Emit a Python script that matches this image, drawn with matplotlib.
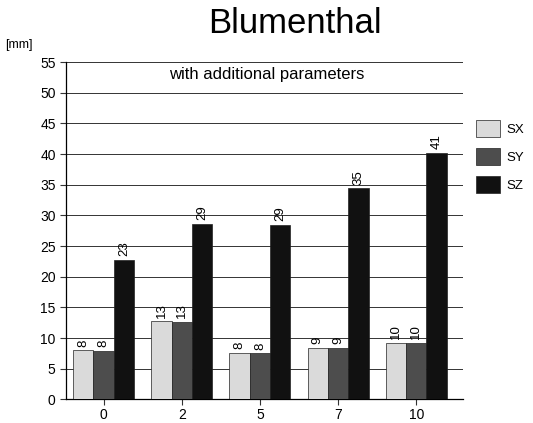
import matplotlib.pyplot as plt
import numpy as np

plt.rcParams['font.family'] = ['Liberation Sans', 'DejaVu Sans']

# data
categories = ['0', '2', '5', '7', '10']
series = ['SX', 'SY', 'SZ']
sx = [8.0, 12.7, 7.6, 8.4, 9.2]
sy = [7.9, 12.6, 7.5, 8.4, 9.2]
sz = [22.8, 28.6, 28.5, 34.4, 40.2]
sx_labels = ['8', '13', '8', '9', '10']
sy_labels = ['8', '13', '8', '9', '10']
sz_labels = ['23', '29', '29', '35', '41']

colors = ['#dadada', '#4d4d4d', '#111111']

fig = plt.figure(figsize=(5.33, 4.23), dpi=100)
ax = fig.add_axes([0.124, 0.056, 0.745, 0.797])

x = np.arange(len(categories))
w = 0.26
for i, (vals, labs) in enumerate(zip([sx, sy, sz], [sx_labels, sy_labels, sz_labels])):
    pos = x + (i - 1) * w
    ax.bar(pos, vals, w, color=colors[i], edgecolor='#222222', linewidth=0.5,
           label=series[i], zorder=3)
    for p, v, t in zip(pos, vals, labs):
        ax.text(p, v + 0.6, t, rotation=90, ha='center', va='bottom', fontsize=9.5)

ax.set_ylim(0, 55)
ax.set_xlim(-0.48, 4.6)
ax.set_yticks(np.arange(0, 56, 5))
ax.set_xticks(x)
ax.set_xticklabels(categories)
ax.tick_params(labelsize=10, length=4, width=0.8, color='#333333')
ax.tick_params(axis='x', pad=2)
ax.yaxis.grid(True, color='#333333', linewidth=0.7, zorder=0)
ax.set_axisbelow(True)
for s in ['top', 'right']:
    ax.spines[s].set_visible(False)
for s in ['left', 'bottom']:
    ax.spines[s].set_linewidth(0.9)

fig.text(0.553, 0.945, 'Blumenthal', ha='center', va='center', fontsize=25)
fig.text(0.035, 0.893, '[mm]', ha='center', va='center', fontsize=9)
ax.text(0.505, 0.985, 'with additional parameters', transform=ax.transAxes,
        ha='center', va='top', fontsize=12)

fig.legend(loc='upper left', bbox_to_anchor=(0.893, 0.716), frameon=False,
           fontsize=9.5, handlelength=1.8, handleheight=1.6, labelspacing=0.85,
           handletextpad=0.5, borderpad=0, borderaxespad=0)

fig.savefig('out.png', dpi=100)
